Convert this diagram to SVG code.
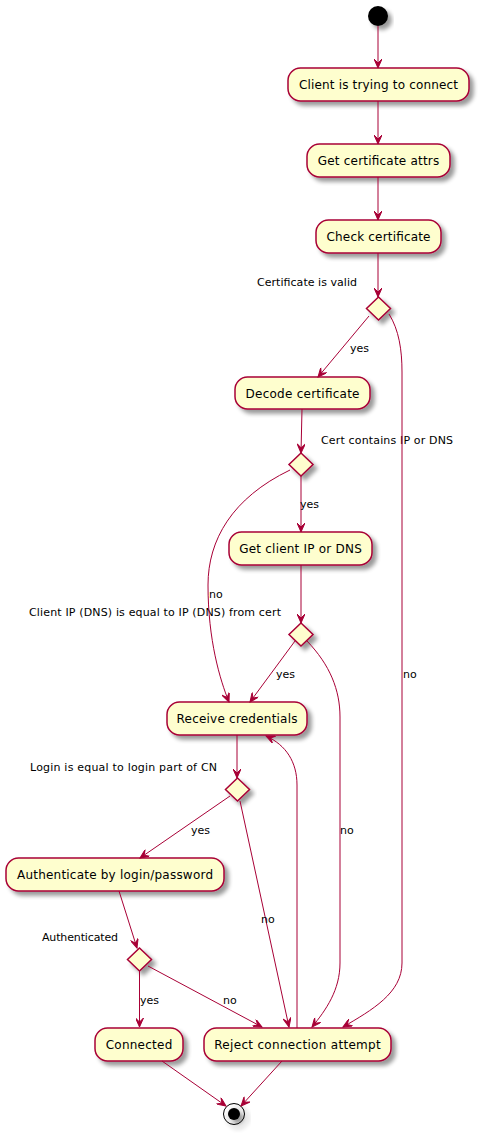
<svg xmlns="http://www.w3.org/2000/svg" width="481" height="1135" viewBox="0 0 481 1135">
<style>
.act rect{fill:#FEFECE;stroke:#A80036;stroke-width:1.5}
.act text{font-family:"DejaVu Sans",sans-serif;font-size:12px;fill:#000;text-anchor:middle}
.dec polygon{fill:#FEFECE;stroke:#A80036;stroke-width:1.5}
.lbl{font-family:"DejaVu Sans",sans-serif;font-size:11px;fill:#000}
.conn path{fill:none;stroke:#A80036;stroke-width:1;marker-end:url(#arr)}
</style>
<defs>
<filter id="sh" x="-20%" y="-20%" width="150%" height="160%">
<feGaussianBlur in="SourceAlpha" stdDeviation="2"/>
<feOffset dx="4" dy="4" result="b"/>
<feComponentTransfer><feFuncA type="linear" slope="0.4"/></feComponentTransfer>
<feMerge><feMergeNode/><feMergeNode in="SourceGraphic"/></feMerge>
</filter>
<marker id="arr" viewBox="0 0 11 8" refX="10" refY="4" markerWidth="11" markerHeight="8" markerUnits="userSpaceOnUse" orient="auto">
<path d="M10,4 L1,0 L5,4 L1,8 Z" fill="#A80036" stroke="#A80036" stroke-width="1"/>
</marker>
</defs>

<g id="start"><circle cx="378" cy="16" r="10" fill="#000" filter="url(#sh)"/></g>

<g id="n1" class="act"><rect x="288" y="68" width="181" height="33" rx="12.5" filter="url(#sh)"/><text x="378.5" y="89" textLength="159" lengthAdjust="spacing">Client is trying to connect</text></g>
<g id="n2" class="act"><rect x="307" y="144" width="143" height="33" rx="12.5" filter="url(#sh)"/><text x="378.5" y="165" textLength="121.5" lengthAdjust="spacing">Get certificate attrs</text></g>
<g id="n3" class="act"><rect x="316" y="220" width="125" height="33" rx="12.5" filter="url(#sh)"/><text x="378.5" y="241" textLength="104" lengthAdjust="spacing">Check certificate</text></g>

<g id="d1" class="dec"><polygon points="378.5,297 390.5,308.5 378.5,320 366.5,308.5" filter="url(#sh)"/></g>
<text class="lbl" x="257" y="286" textLength="100" lengthAdjust="spacing">Certificate is valid</text>

<g id="n4" class="act"><rect x="235" y="377" width="135" height="32" rx="12.5" filter="url(#sh)"/><text x="302.5" y="397.5" textLength="114" lengthAdjust="spacing">Decode certificate</text></g>

<g id="d2" class="dec"><polygon points="301,453 313,464.5 301,476 289,464.5" filter="url(#sh)"/></g>
<text class="lbl" x="321" y="444" textLength="132" lengthAdjust="spacing">Cert contains IP or DNS</text>

<g id="n5" class="act"><rect x="229" y="532" width="143" height="33" rx="12.5" filter="url(#sh)"/><text x="300.5" y="553" textLength="122.5" lengthAdjust="spacing">Get client IP or DNS</text></g>

<g id="d3" class="dec"><polygon points="301,623 313,634.5 301,646 289,634.5" filter="url(#sh)"/></g>
<text class="lbl" x="29" y="616" textLength="252" lengthAdjust="spacing">Client IP (DNS) is equal to IP (DNS) from cert</text>

<g id="n6" class="act"><rect x="167" y="702" width="140" height="33" rx="12.5" filter="url(#sh)"/><text x="237" y="723" textLength="121" lengthAdjust="spacing">Receive credentials</text></g>

<g id="d4" class="dec"><polygon points="237.5,778 249.5,789.5 237.5,801 225.5,789.5" filter="url(#sh)"/></g>
<text class="lbl" x="30" y="771" textLength="187" lengthAdjust="spacing">Login is equal to login part of CN</text>

<g id="n7" class="act"><rect x="6" y="858" width="218" height="33" rx="12.5" filter="url(#sh)"/><text x="115" y="879" textLength="196" lengthAdjust="spacing">Authenticate by login/password</text></g>

<g id="d5" class="dec"><polygon points="139.5,948 151.5,959.5 139.5,971 127.5,959.5" filter="url(#sh)"/></g>
<text class="lbl" x="42" y="941" textLength="76" lengthAdjust="spacing">Authenticated</text>

<g id="n8" class="act"><rect x="95" y="1028" width="88" height="33" rx="12.5" filter="url(#sh)"/><text x="139" y="1049" textLength="66.5" lengthAdjust="spacing">Connected</text></g>
<g id="n9" class="act"><rect x="204" y="1028" width="187" height="33" rx="12.5" filter="url(#sh)"/><text x="297.5" y="1049" textLength="166.5" lengthAdjust="spacing">Reject connection attempt</text></g>

<g id="end" filter="url(#sh)"><circle cx="234" cy="1114" r="10.5" fill="none" stroke="#000" stroke-width="1"/><circle cx="234" cy="1114" r="6" fill="#000"/></g>

<g id="connectors" class="conn">
<path d="M378,26 L378,68"/>
<path d="M378,101 L378,144"/>
<path d="M378,177 L378,220"/>
<path d="M378,253 L378,297"/>
<path d="M369,316 L318,377"/>
<path d="M389,314 C399,330 402,350 402,372 L402,963 C402,993 372,1010 343,1027"/>
<path d="M302,409 L301,453"/>
<path d="M301,476 L301,532"/>
<path d="M290,470 C232,498 208,540 208,585 C208,640 220,680 229,702"/>
<path d="M301,565 L301,623"/>
<path d="M295,641 L250,702"/>
<path d="M307,641 C330,665 340,690 340,717 L340,963 C340,990 326,1010 312,1027"/>
<path d="M237,735 L237,778"/>
<path d="M297,1028 L297,785 C297,762 286,745 266,736"/>
<path d="M230,796 L140,858"/>
<path d="M240,801 L289,1027"/>
<path d="M119,891 L137,948"/>
<path d="M139.5,971 L139.5,1027"/>
<path d="M148,966 L262,1027"/>
<path d="M162,1061 L226,1106"/>
<path d="M282,1061 L241,1106"/>
</g>

<text class="lbl" x="350" y="352">yes</text>
<text class="lbl" x="403" y="678">no</text>
<text class="lbl" x="300" y="508">yes</text>
<text class="lbl" x="209" y="598">no</text>
<text class="lbl" x="276" y="678">yes</text>
<text class="lbl" x="340" y="834">no</text>
<text class="lbl" x="191" y="834">yes</text>
<text class="lbl" x="261" y="923">no</text>
<text class="lbl" x="140" y="1004">yes</text>
<text class="lbl" x="223" y="1004">no</text>
</svg>
